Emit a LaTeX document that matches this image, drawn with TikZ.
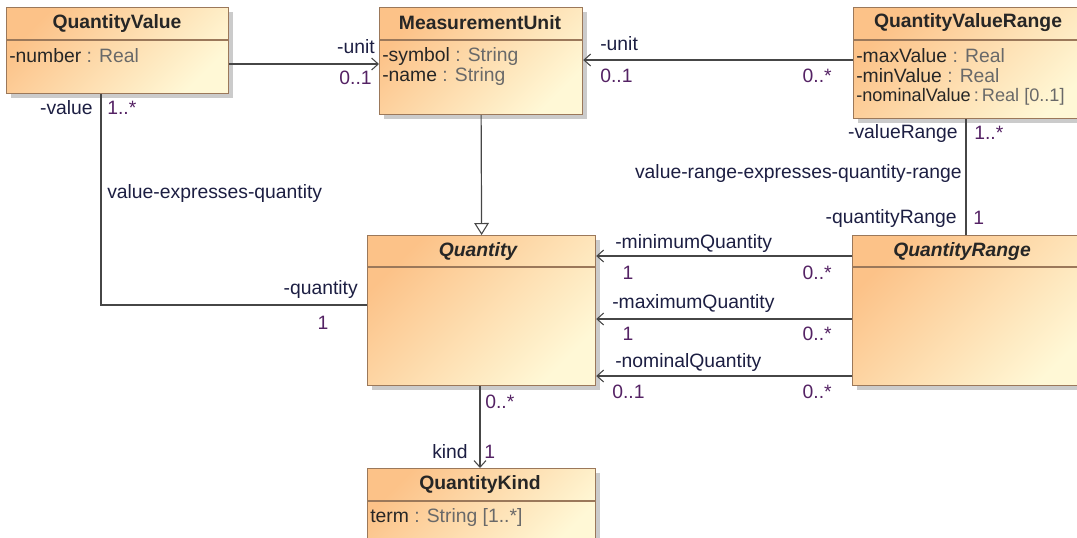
\documentclass[tikz,border=0pt]{standalone}
\usepackage{fontspec}
\setmainfont{Liberation Sans}
\usetikzlibrary{arrows.meta,shadows}
\definecolor{cA}{RGB}{252,194,136}
\definecolor{cB}{RGB}{255,248,214}
\definecolor{bordc}{RGB}{155,120,90}
\definecolor{labc}{RGB}{28,30,66}
\definecolor{multc}{RGB}{84,34,100}
\definecolor{typec}{RGB}{105,105,105}
\definecolor{linec}{RGB}{70,70,70}
\begin{document}
\begin{tikzpicture}[x=0.75pt,y=-0.75pt,
  font=\fontsize{14.5}{16}\selectfont,
  cls/.style={draw=bordc, line width=0.9pt, top color=cA, bottom color=cB, shading angle=45,
    anchor=north west, inner sep=0pt,
    drop shadow={shadow xshift=3pt,shadow yshift=-3pt,fill=black!45,opacity=0.45}},
  sep/.style={draw=bordc, line width=0.9pt},
  title/.style={font=\fontsize{14.5}{16}\selectfont\bfseries, text=black!85, inner sep=0pt},
  ititle/.style={font=\fontsize{14.5}{16}\selectfont\bfseries\itshape, text=black!85, inner sep=0pt},
  attr/.style={anchor=west, inner sep=0pt, text=black!85},
  lab/.style={inner sep=0pt, text=labc},
  mult/.style={inner sep=0pt, text=multc},
  conn/.style={draw=linec, line width=0.9pt},
  nav/.style={conn, -{Straight Barb[length=5pt,width=9pt,line width=0.8pt]}},
  gen/.style={conn, -{Triangle[open,length=9pt,width=11pt,fill=white,line width=0.8pt]}}
]
\useasboundingbox (0,0) rectangle (1077,537);

% ---- classes ----
\node[cls, minimum width={222*0.75pt}, minimum height={86*0.75pt}] (QV) at (6,7) {};
\draw[sep] (QV.west |- 0,40) -- (QV.east |- 0,40);
\node[title] (QVt) at (117,23) {QuantityValue};
\node[attr] (QVa) at (9,56) {-number \textcolor{typec}{: Real}};

\node[cls, minimum width={203*0.75pt}, minimum height={107*0.75pt}] (MU) at (379,7) {};
\draw[sep] (MU.west |- 0,40) -- (MU.east |- 0,40);
\node[title] (MUt) at (480,23) {MeasurementUnit};
\node[attr] (MUa) at (382,56) {-symbol \textcolor{typec}{: String}};
\node[attr] (MUb) at (382,76) {-name \textcolor{typec}{: String}};

\node[cls, minimum width={240*0.75pt}, minimum height={111*0.75pt}] (QVR) at (853,7) {};
\draw[sep] (QVR.west |- 0,40) -- (QVR.east |- 0,40);
\node[title] (QVRt) at (968,23) {QuantityValueRange};
\node[attr] (QVRa) at (856,56) {-maxValue \textcolor{typec}{: Real}};
\node[attr] (QVRb) at (856,76) {-minValue \textcolor{typec}{: Real}};
\node[attr, font=\fontsize{13.6}{16}\selectfont] (QVRc) at (856,97) {-nominalValue\,\textcolor{typec}{:\,Real [0..1]}};

\node[cls, minimum width={228*0.75pt}, minimum height={150*0.75pt}] (Q) at (367,235) {};
\draw[sep] (Q.west |- 0,267) -- (Q.east |- 0,267);
\node[ititle] (Qt) at (478,251) {Quantity};

\node[cls, minimum width={240*0.75pt}, minimum height={150*0.75pt}] (QR) at (852,235) {};
\draw[sep] (QR.west |- 0,267) -- (QR.east |- 0,267);
\node[ititle] (QRt) at (962,251) {QuantityRange};

\node[cls, minimum width={228*0.75pt}, minimum height={80*0.75pt}] (QK) at (367,468) {};
\draw[sep] (QK.west |- 0,501) -- (QK.east |- 0,501);
\node[title] (QKt) at (480,484) {QuantityKind};
\node[attr] (QKa) at (370,517) {term \textcolor{typec}{: String [1..*]}};

% ---- connectors ----
\draw[nav] (QV.east |- 0,64) -- (MU.west |- 0,64);
\node[lab, anchor=east] (l1) at (375,47) {-unit};
\node[mult, anchor=east] (m1) at (372,78) {0..1};

\draw[nav] (QVR.west |- 0,60) -- (MU.east |- 0,60);
\node[lab, anchor=west] (l2) at (600,44) {-unit};
\node[mult, anchor=west] (m2) at (600,76) {0..1};
\node[mult, anchor=east] (m3) at (832,76) {0..*};

\draw[gen] (MU.south) -- (Q.north);

\draw[conn] (QV.south -| 101,0) |- (Q.west |- 0,305);
\node[lab, anchor=east] (l3) at (93,108) {-value};
\node[mult, anchor=west] (m4) at (107,108) {1..*};
\node[lab, anchor=west] (l4) at (107,193) {value-expresses-quantity};
\node[lab, anchor=east] (l5) at (358,289) {-quantity};
\node[mult] (m5) at (323,323) {1};

\draw[conn] (QVR.south -| 966,0) -- (QR.north -| 966,0);
\node[lab, anchor=east] (l6) at (958,133) {-valueRange};
\node[mult, anchor=west] (m6) at (974,133) {1..*};
\node[lab, anchor=east] (l7) at (962,173) {value-range-expresses-quantity-range};
\node[lab, anchor=east] (l8) at (957,218) {-quantityRange};
\node[mult, anchor=west] (m7) at (973,218) {1};

\draw[nav] (QR.west |- 0,256) -- (Q.east |- 0,256);
\node[lab, anchor=west] (l9) at (615,243) {-minimumQuantity};
\node[mult] (m8) at (628,273) {1};
\node[mult, anchor=east] (m9) at (832,273) {0..*};

\draw[nav] (QR.west |- 0,319) -- (Q.east |- 0,319);
\node[lab, anchor=west] (l10) at (612,303) {-maximumQuantity};
\node[mult] (m10) at (628,334) {1};
\node[mult, anchor=east] (m11) at (832,334) {0..*};

\draw[nav] (QR.west |- 0,376) -- (Q.east |- 0,376);
\node[lab, anchor=west] (l11) at (615,362) {-nominalQuantity};
\node[mult, anchor=west] (m12) at (612,392) {0..1};
\node[mult, anchor=east] (m13) at (832,392) {0..*};

\draw[nav] (Q.south -| 480,0) -- (QK.north -| 480,0);
\node[mult, anchor=west] (m14) at (485,402) {0..*};
\node[lab, anchor=east] (l12) at (468,452) {kind};
\node[mult, anchor=west] (m15) at (484,452) {1};
\end{tikzpicture}
\end{document}
